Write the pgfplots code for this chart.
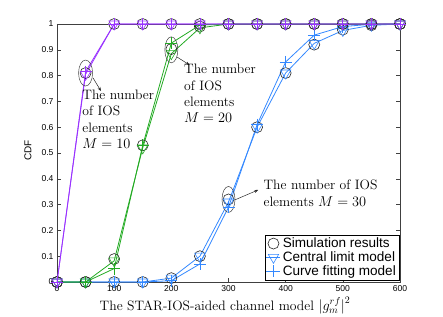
\documentclass[border=0pt]{standalone}
\usepackage{fontspec}
\usepackage{pgfplots}
\pgfplotsset{compat=1.18}
\usetikzlibrary{shapes.geometric,arrows.meta}
\newfontfamily\arial{Liberation Sans}
\definecolor{cpurple}{RGB}{153,51,255}
\definecolor{cgreen}{RGB}{34,170,34}
\definecolor{cblue}{RGB}{51,136,255}
\begin{document}
\begin{tikzpicture}
\useasboundingbox (-57bp,-35bp) rectangle (386bp,282bp);
\begin{axis}[
  at={(0,0)}, anchor=south west,
  scale only axis, width=343bp, height=258bp,
  xmin=0, xmax=600, ymin=0, ymax=1,
  xtick={0,100,...,600},
  ytick={0,0.1,...,1},
  yticklabels={0,0.1,0.2,0.3,0.4,0.5,0.6,0.7,0.8,0.9,1},
  tick align=inside,
  major tick length=4bp,
  axis line style={black!75},
  every tick/.style={black!75},
  tick label style={font=\arial\fontsize{8.6}{10}\selectfont},
  /pgf/number format/assume math mode=true,
  xlabel={The STAR-IOS-aided channel model $\bigl|g_m^{rf}\bigr|^2$},
  xlabel style={font=\fontsize{13.7}{16}\selectfont, at={(axis description cs:0.49,0)}, anchor=base, yshift=-28bp},
  ylabel={CDF},
  ylabel style={font=\arial\fontsize{10}{12}\selectfont, at={(axis description cs:-0.085,0.51)}, anchor=center},
  legend style={at={(axis description cs:1,0)}, anchor=south east, xshift=-1bp, yshift=2bp,
    font=\arial\fontsize{13.6}{15}\selectfont, draw=black, fill=white, inner sep=1bp,
    row sep=-1.5bp, cells={anchor=west}},
  legend image code/.code={\draw[mark repeat=2,mark phase=2] plot coordinates {(0bp,0bp) (7bp,0bp) (14bp,0bp)};},
  legend cell align=left,
  sim/.style={only marks, mark=o, mark size=5.5bp, black!85, mark options={line width=0.6pt}},
  cen/.style={mark=triangle, mark size=6bp, line width=0.8pt, mark options={rotate=180, line width=0.6pt}},
  fit/.style={mark=+, mark size=6bp, line width=0.8pt, mark options={line width=0.8pt}},
]
% M = 30 (blue)
\addplot[sim] coordinates {(0,0) (50,0) (100,0) (150,0) (200,0.015) (250,0.10) (300,0.32) (350,0.60) (400,0.81) (450,0.92) (500,0.978) (550,0.995) (600,1)};
\addlegendentry{Simulation results}
\addplot[cen, cblue] coordinates {(0,0) (50,0) (100,0) (150,0) (200,0.015) (250,0.10) (300,0.31) (350,0.60) (400,0.81) (450,0.925) (500,0.975) (550,0.995) (600,1)};
\addlegendentry{Central limit model}
\addplot[fit, cblue] coordinates {(0,0) (50,0) (100,0) (150,0) (200,0.005) (250,0.07) (300,0.29) (350,0.61) (400,0.853) (450,0.957) (500,0.99) (550,0.999) (600,1)};
\addlegendentry{Curve fitting model}
% M = 20 (green)
\addplot[sim, forget plot] coordinates {(0,0) (50,0) (100,0.089) (150,0.53) (200,0.903) (250,0.99) (300,1) (350,1) (400,1) (450,1) (500,1) (550,1) (600,1)};
\addplot[cen, cgreen, forget plot] coordinates {(0,0) (50,0) (100,0.082) (150,0.52) (200,0.885) (250,0.985) (300,1) (350,1) (400,1) (450,1) (500,1) (550,1) (600,1)};
\addplot[fit, cgreen, forget plot] coordinates {(0,0) (50,0) (100,0.052) (150,0.53) (200,0.926) (250,0.996) (300,1) (350,1) (400,1) (450,1) (500,1) (550,1) (600,1)};
% M = 10 (purple)
\addplot[sim, forget plot] coordinates {(0,0) (50,0.81) (100,1) (150,1) (200,1) (250,1) (300,1) (350,1) (400,1) (450,1) (500,1) (550,1) (600,1)};
\addplot[cen, cpurple, forget plot] coordinates {(0,0) (50,0.805) (100,1) (150,1) (200,1) (250,1) (300,1) (350,1) (400,1) (450,1) (500,1) (550,1) (600,1)};
\addplot[fit, cpurple, forget plot] coordinates {(0,0) (50,0.815) (100,1) (150,1) (200,1) (250,1) (300,1) (350,1) (400,1) (450,1) (500,1) (550,1) (600,1)};
% annotations
\node[draw=black!75, ellipse, minimum width=14bp, minimum height=26bp, inner sep=0pt, line width=0.5pt] at (axis cs:50,0.81) {};
\node[draw=black!75, ellipse, minimum width=13bp, minimum height=26bp, inner sep=0pt, line width=0.5pt] at (axis cs:200,0.9) {};
\node[draw=black!75, ellipse, minimum width=13bp, minimum height=26bp, inner sep=0pt, line width=0.5pt] at (axis cs:300,0.32) {};
\draw[-{Stealth[length=4bp]}, black!85, line width=0.5pt] (axis cs:63,0.791) -- (axis cs:77,0.74);
\draw[-{Stealth[length=4bp]}, black!85, line width=0.5pt] (axis cs:210,0.872) -- (axis cs:232,0.841);
\draw[-{Stealth[length=4bp]}, black!85, line width=0.5pt] (axis cs:311,0.318) -- (axis cs:352,0.357);
\node[anchor=north west, align=left, inner sep=0pt, font=\fontsize{13.7}{16.5}\selectfont] at (axis cs:44,0.745) {The number\\of IOS\\elements\\$M=10$};
\node[anchor=north west, align=left, inner sep=0pt, font=\fontsize{13.7}{16.5}\selectfont] at (axis cs:222,0.845) {The number\\of IOS\\elements\\$M=20$};
\node[anchor=north west, align=left, inner sep=0pt, font=\fontsize{13.7}{16.5}\selectfont] at (axis cs:361,0.395) {The number of IOS\\elements $M=30$};
\end{axis}
\end{tikzpicture}
\end{document}
